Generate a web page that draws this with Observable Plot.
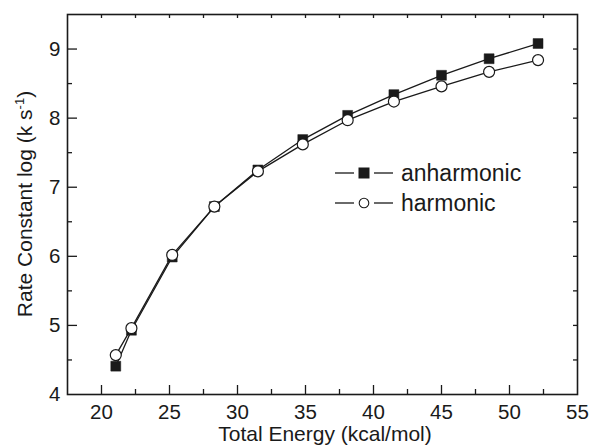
<!DOCTYPE html>
<html>
<head>
<meta charset="utf-8">
<script src="https://cdn.jsdelivr.net/npm/d3@7"></script>
<script src="https://cdn.jsdelivr.net/npm/@observablehq/plot@0.6"></script>
<style>
  html, body { margin: 0; padding: 0; background: #fff; }
  #chart { width: 592px; height: 445px; }
  svg { font-family: "Liberation Sans", Arial, Helvetica, sans-serif; }
</style>
</head>
<body>
<div id="chart"></div>
<script>
// ---- data ----
const energy = [21.05, 22.2, 25.2, 28.3, 31.5, 34.8, 38.1, 41.5, 45.0, 48.5, 52.1];
const anharmonic = [4.41, 4.93, 5.99, 6.72, 7.25, 7.69, 8.04, 8.34, 8.62, 8.86, 9.08];
const harmonic = [4.57, 4.96, 6.02, 6.72, 7.23, 7.62, 7.97, 8.24, 8.46, 8.67, 8.84];
const seriesNames = ["anharmonic", "harmonic"];
const xTickLabels = [20, 25, 30, 35, 40, 45, 50, 55];
const xMinor = [22.5, 27.5, 32.5, 37.5, 42.5, 47.5, 52.5];
const yTickLabels = [4, 5, 6, 7, 8, 9];
const yMinor = [4.5, 5.5, 6.5, 7.5, 8.5, 9.5];
const xTitle = "Total Energy (kcal/mol)";
const yTitleMain = "Rate Constant log (k s";
const yTitleSup = "-1";
const yTitleEnd = ")";

const anData = energy.map((e, i) => ({x: e, y: anharmonic[i]}));
const haData = energy.map((e, i) => ({x: e, y: harmonic[i]}));

const W = 592, H = 445;
const mL = 67, mR = 15, mT = 14, mB = 51;
const fw = W - mL - mR, fh = H - mT - mB;
const ink = "#1a1a1a";

const plot = Plot.plot({
  width: W, height: H,
  marginLeft: mL, marginRight: mR, marginTop: mT, marginBottom: mB,
  x: {domain: [17.5, 55]},
  y: {domain: [4, 9.5]},
  style: {fontFamily: '"Liberation Sans", Arial, Helvetica, sans-serif', fontSize: "20px", color: ink, background: "#fff"},
  marks: [
    // inward ticks: bottom
    Plot.tickX(xTickLabels.filter(v => v < 55), {x: d => d, insetTop: fh - 9, stroke: ink, strokeWidth: 1.3}),
    Plot.tickX(xMinor, {x: d => d, insetTop: fh - 5, stroke: ink, strokeWidth: 1.3}),
    // top
    Plot.tickX(xTickLabels.filter(v => v < 55).concat(xMinor), {x: d => d, insetBottom: fh - 4, stroke: ink, strokeWidth: 1.3}),
    // left
    Plot.tickY(yTickLabels.filter(v => v > 4), {y: d => d, insetRight: fw - 10, stroke: ink, strokeWidth: 1.3}),
    Plot.tickY(yMinor.filter(v => v < 9.5), {y: d => d, insetRight: fw - 5, stroke: ink, strokeWidth: 1.3}),
    // right
    Plot.tickY(yTickLabels.filter(v => v > 4).concat(yMinor.filter(v => v < 9.5)), {y: d => d, insetLeft: fw - 4, stroke: ink, strokeWidth: 1.3}),
    Plot.axisX({ticks: xTickLabels, tickSize: 0, tickPadding: 10, label: null, fontSize: 20.5, tickFormat: d => String(d)}),
    Plot.axisY({ticks: yTickLabels, tickSize: 0, tickPadding: 7, label: null, fontSize: 20.5, tickFormat: d => String(d)}),
    Plot.frame({stroke: ink, strokeWidth: 1.6}),
    // anharmonic
    Plot.line(anData, {x: "x", y: "y", stroke: ink, strokeWidth: 1.3}),
    Plot.dot(anData, {x: "x", y: "y", symbol: "square", r: 5.6, fill: ink, stroke: ink, strokeWidth: 0.5}),
    // harmonic
    Plot.line(haData, {x: "x", y: "y", stroke: ink, strokeWidth: 1.3}),
    Plot.dot(haData, {x: "x", y: "y", symbol: "circle", r: 5.5, fill: "#fff", stroke: ink, strokeWidth: 1.2})
  ]
});

document.getElementById("chart").appendChild(plot);
const svg = d3.select(plot);

// axis titles
svg.append("text")
  .attr("x", mL + fw / 2 + 3).attr("y", 441)
  .attr("text-anchor", "middle")
  .attr("font-size", 21).attr("fill", ink)
  .text(xTitle);

const yt = svg.append("text")
  .attr("transform", `translate(32,${mT + fh / 2}) rotate(-90)`)
  .attr("text-anchor", "middle")
  .attr("font-size", 21).attr("fill", ink);
yt.append("tspan").text(yTitleMain);
yt.append("tspan").attr("font-size", 13).attr("dy", -8).text(yTitleSup);
yt.append("tspan").attr("dy", 8).text(yTitleEnd);

// legend
const leg = svg.append("g").attr("transform", "translate(335,0)");
const rows = [{y: 173, name: seriesNames[0], sym: "square"}, {y: 203, name: seriesNames[1], sym: "circle"}];
rows.forEach(r => {
  leg.append("line").attr("x1", 0).attr("x2", 19).attr("y1", r.y).attr("y2", r.y)
    .attr("stroke", ink).attr("stroke-width", 1.3);
  leg.append("line").attr("x1", 39).attr("x2", 58).attr("y1", r.y).attr("y2", r.y)
    .attr("stroke", ink).attr("stroke-width", 1.3);
  if (r.sym === "square") {
    leg.append("rect").attr("x", 29 - 5.5).attr("y", r.y - 5.5).attr("width", 11).attr("height", 11)
      .attr("fill", ink);
  } else {
    leg.append("circle").attr("cx", 29).attr("cy", r.y).attr("r", 4.8)
      .attr("fill", "#fff").attr("stroke", ink).attr("stroke-width", 1.1);
  }
  leg.append("text").attr("x", 66).attr("y", r.y).attr("dy", "0.36em")
    .attr("text-anchor", "start")
    .attr("font-size", 23).attr("fill", ink).text(r.name);
});
</script>
</body>
</html>
